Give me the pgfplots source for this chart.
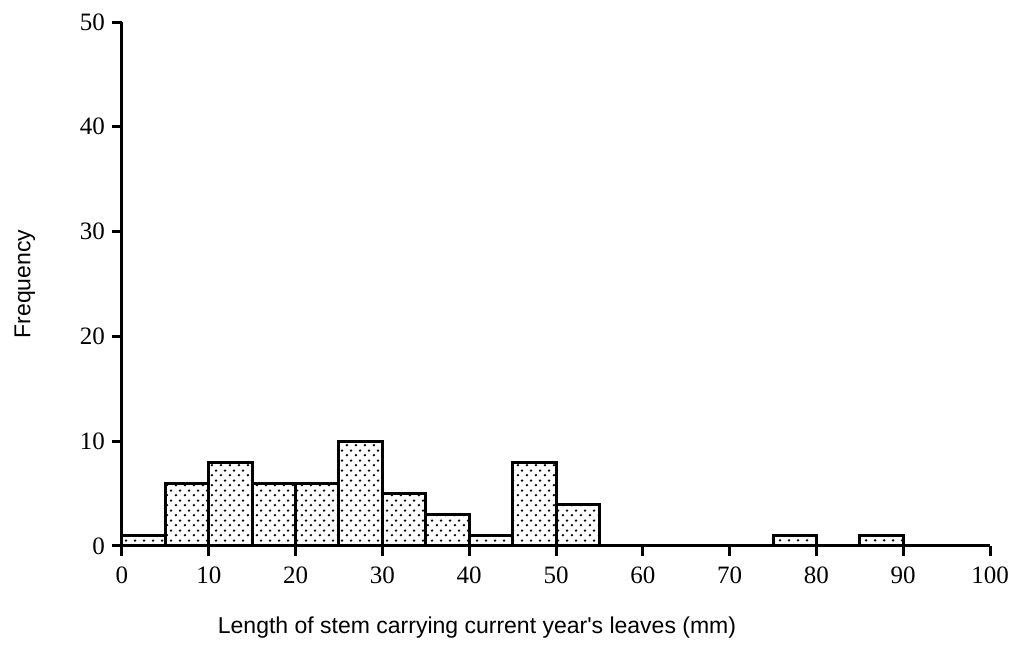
\documentclass[border=0pt]{standalone}
\usepackage{fontspec}
\setmainfont{Liberation Serif}
\setsansfont{Liberation Sans}
\usepackage{pgfplots}
\pgfplotsset{compat=1.18}
\usetikzlibrary{patterns}
\pgfdeclarepatternformonly{mydots}{\pgfpointorigin}{\pgfpoint{4.3pt}{5pt}}{\pgfpoint{4.3pt}{5pt}}{%
  \pgfpathcircle{\pgfpoint{1pt}{1pt}}{0.7pt}%
  \pgfpathcircle{\pgfpoint{3.15pt}{3.5pt}}{0.7pt}%
  \pgfusepath{fill}}
\begin{document}
\begin{tikzpicture}
\useasboundingbox (-61pt,-55.5pt) rectangle (445.5pt,273pt);
\begin{axis}[
  at={(0,0)}, anchor=origin,
  scale only axis, width=434pt, height=262pt,
  xmin=0, xmax=100, ymin=0, ymax=50,
  axis x line*=bottom, axis y line*=left,
  axis line style={line width=1.5pt,-},
  xtick={0,10,...,100}, ytick={0,10,...,50},
  tick align=outside, major tick length=5pt,
  tick style={line width=1.5pt,black},
  tick label style={font=\fontsize{12.5}{14}\selectfont},
  /pgf/number format/assume math mode=true,
  xticklabel style={yshift=-2pt},
  clip=false,
  xlabel={Length of stem carrying current year\textquotesingle s leaves (mm)},
  ylabel={Frequency},
  every axis x label/.style={at={(axis description cs:0.409,-0.1565)}, anchor=center, font=\fontsize{11.5}{13}\sffamily},
  every axis y label/.style={at={(axis description cs:-0.1118,0.5)}, anchor=center, rotate=90, font=\fontsize{11.5}{13}\sffamily},
]
\addplot[ybar interval, draw=black, line width=1.5pt, pattern=mydots, pattern color=black] coordinates {
(0,1) (5,6) (10,8) (15,6) (20,6) (25,10) (30,5) (35,3) (40,1) (45,8) (50,4) (55,0)};
\addplot[ybar interval, draw=black, line width=1.5pt, pattern=mydots, pattern color=black] coordinates {
(75,1) (80,0)};
\addplot[ybar interval, draw=black, line width=1.5pt, pattern=mydots, pattern color=black] coordinates {
(85,1) (90,0)};
\end{axis}
\end{tikzpicture}
\end{document}
